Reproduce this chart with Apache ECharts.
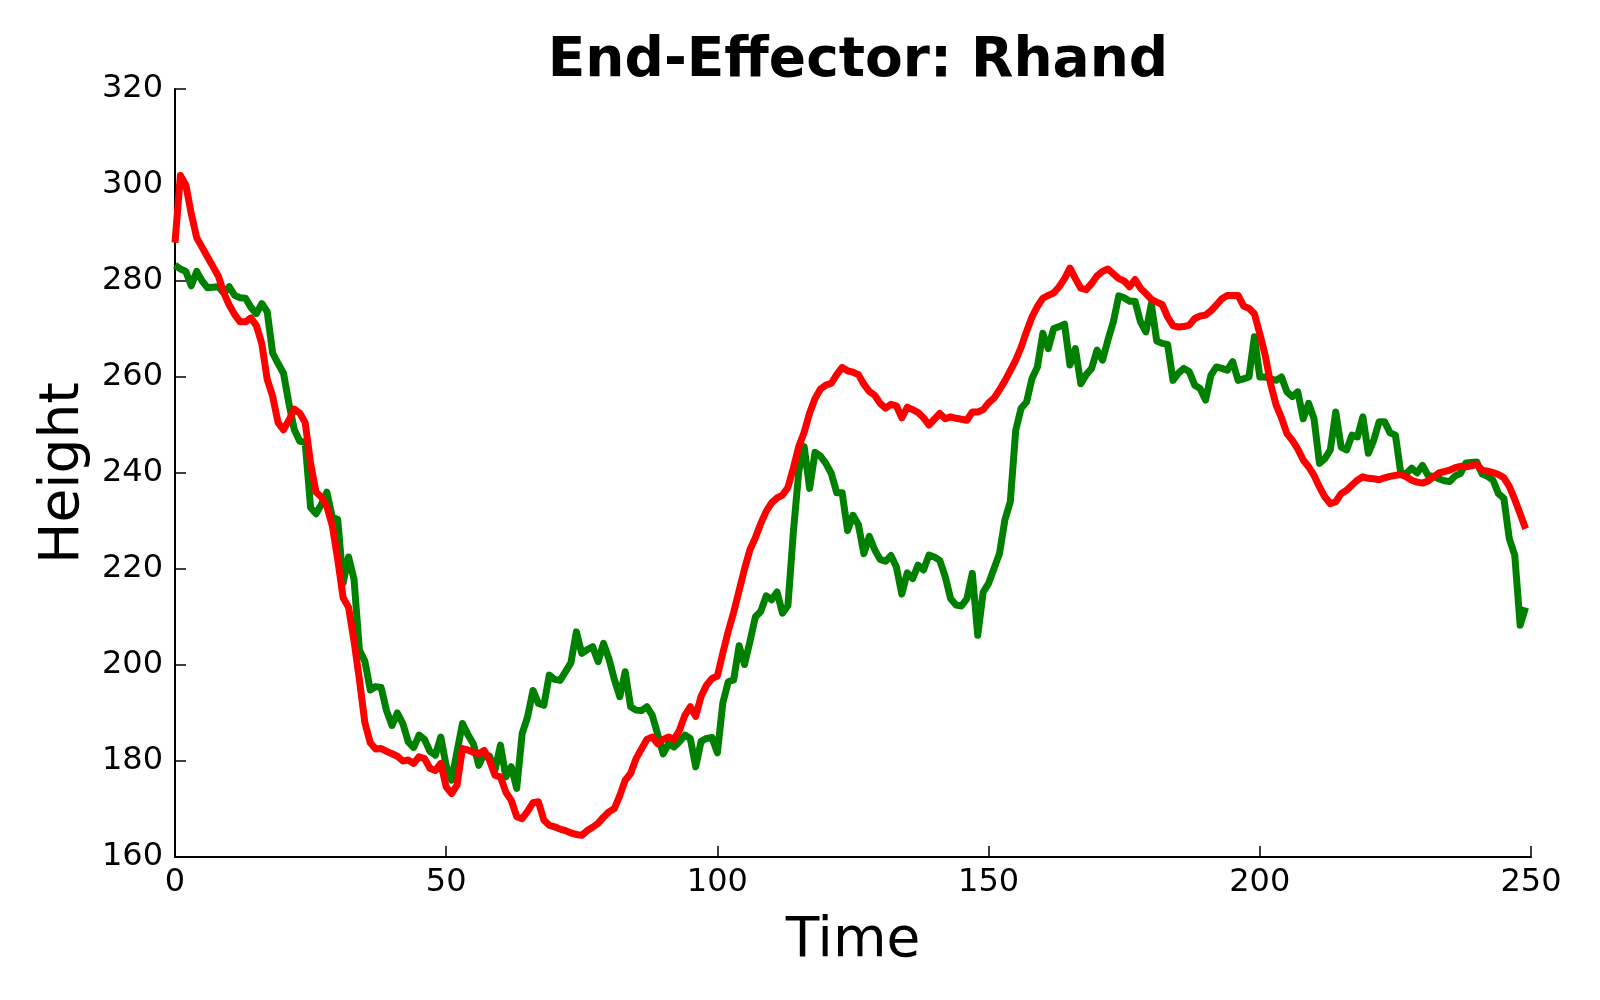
<!DOCTYPE html>
<html>
<head>
<meta charset="utf-8">
<title>End-Effector: Rhand</title>
<script src="https://cdn.jsdelivr.net/npm/echarts@6/dist/echarts.min.js"></script>
<style>
  html, body { margin: 0; padding: 0; background: #fff; }
  #main { width: 1600px; height: 1000px; }
</style>
</head>
<body>
<div id="main"></div>
<script>
// green line (measured)
var greenHeight = [
  283.3, 282.5, 282, 279, 282, 280, 278.6, 278.7, 278.8, 277.5,
  278.8, 277, 276.5, 276.4, 274.5, 273.2, 275.3, 273.6, 265, 262.8,
  260.8, 254.5, 249, 246.6, 246.4, 232.8, 231.5, 233.5, 236, 230.8,
  230.3, 217.1, 222.5, 217.9, 203.1, 200.8, 194.8, 195.5, 195.3, 190.5,
  187.4, 190, 187.8, 184, 182.8, 185.4, 184.5, 182, 181.2, 185,
  179, 176, 182, 187.8, 185.5, 183.6, 179.1, 181.5, 181, 178.1,
  183.3, 176.7, 178.8, 174.3, 185.7, 189.2, 194.7, 192, 191.6, 197.9,
  197, 196.8, 198.6, 200.5, 206.9, 202.4, 203.2, 203.8, 200.7, 204.5,
  201.3, 197, 193.4, 198.6, 191.3, 190.6, 190.5, 191.3, 189.5, 185.5,
  181.5, 183.6, 182.9, 184, 185.4, 184.7, 178.8, 184.1, 184.7, 184.9,
  181.7, 192.1, 196.5, 196.9, 204, 200.1, 204.9, 210, 211.2, 214.4,
  213.6, 215.2, 210.8, 212.4, 227.6, 240.3, 245.5, 236.8, 244.3, 243.5,
  242, 239.9, 235.9, 235.9, 228, 231.2, 229.2, 223.2, 226.8, 224,
  222, 221.6, 222.8, 220.4, 214.8, 219.2, 218, 220.8, 219.8, 222.9,
  222.5, 221.8, 218.4, 213.8, 212.5, 212.3, 213.8, 219.1, 206.2, 215.2,
  217, 220.1, 223.2, 230.2, 234, 248.9, 253.5, 254.8, 259.7, 262.1,
  269.1, 265.9, 270.1, 270.5, 271, 262.5, 265.9, 258.6, 260.5, 261.8,
  265.6, 263.5, 267.7, 271.5, 276.9, 276.5, 275.8, 275.8, 271.5, 269.4,
  275.2, 267.5, 267, 266.8, 259.3, 260.8, 261.8, 261.1, 258.3, 257.6,
  255.2, 260.4, 262.1, 261.8, 261.4, 263.2, 259.3, 259.6, 260, 268.4,
  260, 260, 259.6, 259.3, 260, 256.9, 255.9, 256.9, 251.3, 254.5,
  251.3, 242, 243, 244.8, 252.7, 245.4, 244.8, 247.9, 247.5, 251.7,
  244.1, 246.8, 250.7, 250.7, 248.4, 247.9, 239.9, 239.9, 241, 240,
  241.6, 239.5, 239.3, 238.8, 238.4, 238.2, 239.4, 239.9, 242.1, 242.2,
  242.3, 239.8, 239.3, 238.5, 235.7, 234.7, 226.3, 222.9, 208.3, 212
];

// red line (smoothed)
var redHeight = [
  288, 302, 300, 294, 289, 287, 285, 283, 281, 277.5,
  275, 273, 271.5, 271.5, 272.3, 270.7, 267, 259.5, 256, 250.5,
  249, 251, 253.3, 252.5, 250.5, 242, 236, 235, 233, 229,
  222, 214, 212, 205, 197, 188, 183.8, 182.5, 182.6, 182,
  181.5, 181, 180, 180.2, 179.5, 180.9, 180.5, 178.5, 178, 179.5,
  174.6, 173.2, 175, 182.6, 182.3, 181.8, 181.5, 182.2, 180.1, 177,
  176.7, 173.5, 171.8, 168.4, 168, 169.5, 171.3, 171.5, 167.7, 166.6,
  166.3, 165.8, 165.5, 165, 164.7, 164.5, 165.5, 166.2, 167, 168.3,
  169.4, 170.1, 172.8, 176, 177.4, 180.5, 182.5, 184.5, 185, 183.6,
  184.5, 185, 184.5, 186.4, 189.5, 191.3, 189.3, 193.5, 195.8, 197.2,
  197.7, 202.5, 207, 211, 215.5, 220, 224, 226.5, 229.5, 232,
  233.8, 234.8, 235.4, 237, 241, 245.5, 248.5, 252.5, 255.5, 257.5,
  258.3, 258.7, 260.5, 262, 261.3, 261, 260.5, 258.5, 257, 256.2,
  254.5, 253.5, 254.3, 254, 251.5, 253.7, 253.2, 252.6, 251.5, 250,
  251.2, 252.4, 251.3, 251.7, 251.4, 251.2, 251, 252.7, 252.7, 253.2,
  254.6, 255.6, 257.3, 259.2, 261.3, 263.5, 266.2, 269.5, 272.5, 274.7,
  276.4, 277, 277.5, 278.8, 280.5, 282.7, 280.5, 278.5, 278.2, 279.5,
  281.1, 282, 282.5, 281.5, 280.5, 280, 278.8, 280.3, 278.5, 277.4,
  276.2, 275.6, 275.1, 272.5, 270.7, 270.4, 270.5, 270.8, 272.2, 272.7,
  272.9, 273.8, 275, 276.3, 277, 277, 277, 274.8, 274.3, 273.2,
  269, 264.5, 258.5, 254.2, 251.5, 248.2, 246.8, 245, 242.7, 241.3,
  239.5, 237.1, 235, 233.6, 234, 235.7, 236.4, 237.5, 238.5, 239.2,
  238.9, 238.8, 238.6, 239, 239.3, 239.5, 239.7, 239.2, 238.5, 238.1,
  237.9, 238.3, 239.2, 240, 240.3, 240.6, 241.1, 241.4, 241.3, 241.5,
  241.8, 240.6, 240.4, 240.1, 239.7, 239, 237.2, 234.5, 231.5, 228.4
];

var xTicks = [0, 50, 100, 150, 200, 250];
var yTicks = [160, 180, 200, 220, 240, 260, 280, 300, 320];

function toPairs(arr) {
    var out = [];
    for (var i = 0; i < arr.length; i++) {
        out.push([i, arr[i]]);
    }
    return out;
}

var font = 'DejaVu Sans';
var myChart = echarts.init(document.getElementById('main'));
var option = {
    animation: false,
    backgroundColor: '#ffffff',
    title: {
        text: 'End-Effector: Rhand',
        left: 853,
        top: 29,
        textAlign: 'center',
        textStyle: { fontFamily: font, fontWeight: 'bold', fontSize: 55, color: '#000' }
    },
    grid: { left: 175, right: 69, top: 89, bottom: 143 },
    xAxis: {
        type: 'value',
        min: xTicks[0],
        max: xTicks[xTicks.length - 1],
        interval: 50,
        name: 'Time',
        nameLocation: 'middle',
        nameGap: 57,
        nameTextStyle: { fontFamily: font, fontSize: 55, color: '#000' },
        axisLine: { lineStyle: { color: '#000', width: 2 } },
        axisTick: { inside: true, length: 11, lineStyle: { color: '#000', width: 1.5 } },
        axisLabel: { fontFamily: font, fontSize: 32, color: '#000', margin: 10 },
        splitLine: { show: false }
    },
    yAxis: {
        type: 'value',
        min: yTicks[0],
        max: yTicks[yTicks.length - 1],
        interval: 20,
        name: 'Height',
        nameLocation: 'middle',
        nameGap: 83,
        nameRotate: 90,
        nameTextStyle: { fontFamily: font, fontSize: 55, color: '#000' },
        axisLine: { show: true, lineStyle: { color: '#000', width: 2 } },
        axisTick: { show: true, inside: true, length: 11, lineStyle: { color: '#000', width: 1.5 } },
        axisLabel: { fontFamily: font, fontSize: 32, color: '#000', margin: 12 },
        splitLine: { show: false }
    },
    series: [
        {
            name: 'green',
            type: 'line',
            data: toPairs(greenHeight),
            showSymbol: false,
            lineStyle: { color: '#008000', width: 7, join: 'round' },
            z: 2
        },
        {
            name: 'red',
            type: 'line',
            data: toPairs(redHeight),
            showSymbol: false,
            lineStyle: { color: '#ff0000', width: 7, join: 'round' },
            z: 3
        }
    ]
};
myChart.setOption(option);
</script>
</body>
</html>
